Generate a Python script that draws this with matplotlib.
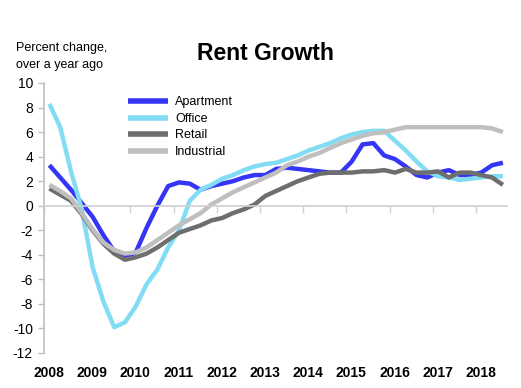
import numpy as np
import matplotlib
matplotlib.use("Agg")
import matplotlib.pyplot as plt
from matplotlib.transforms import ScaledTranslation

plt.rcParams['font.family'] = ['Liberation Sans', 'DejaVu Sans']

# Quarterly observations, 2008Q1 .. 2018Q3
start_year = 2008.125
apartment = [3.3, 2.3, 1.3, 0.2, -0.9, -2.4, -3.7, -4.2, -3.8, -1.8, 0.0, 1.6,
             1.9, 1.8, 1.3, 1.6, 1.8, 2.0, 2.3, 2.5, 2.5, 3.0, 3.1, 3.0,
             2.9, 2.8, 2.7, 2.7, 3.6, 5.0, 5.1, 4.1, 3.8, 3.2, 2.5, 2.3,
             2.7, 2.9, 2.5, 2.5, 2.7, 3.3, 3.5]
office = [8.3, 6.4, 2.8, -0.3, -5.0, -7.8, -9.9, -9.5, -8.2, -6.4, -5.2, -3.4,
          -2.0, 0.4, 1.3, 1.7, 2.2, 2.5, 2.9, 3.2, 3.4, 3.5, 3.8, 4.1,
          4.5, 4.8, 5.1, 5.5, 5.8, 6.0, 6.1, 6.1, 5.3, 4.5, 3.6, 2.8,
          2.4, 2.3, 2.1, 2.2, 2.3, 2.4, 2.4]
retail = [1.4, 0.9, 0.4, -0.7, -2.0, -3.1, -3.9, -4.4, -4.2, -3.9, -3.4, -2.8,
          -2.2, -1.9, -1.6, -1.2, -1.0, -0.6, -0.3, 0.1, 0.8, 1.2, 1.6, 2.0,
          2.3, 2.6, 2.7, 2.7, 2.7, 2.8, 2.8, 2.9, 2.7, 3.0, 2.7, 2.7,
          2.8, 2.3, 2.7, 2.7, 2.5, 2.3, 1.7]
industrial = [1.7, 1.2, 0.6, -0.6, -1.9, -3.0, -3.6, -3.9, -3.8, -3.4, -2.8, -2.2,
              -1.6, -1.1, -0.6, 0.1, 0.6, 1.1, 1.5, 1.9, 2.3, 2.7, 3.3, 3.6,
              4.0, 4.3, 4.7, 5.1, 5.4, 5.7, 5.9, 6.0, 6.2, 6.4, 6.4, 6.4,
              6.4, 6.4, 6.4, 6.4, 6.4, 6.3, 6.0]
years = list(range(2008, 2019))
yticks = list(range(-12, 11, 2))

series = [("Apartment", apartment, "#3535F5"),
          ("Office", office, "#82DDF4"),
          ("Retail", retail, "#6E6E6E"),
          ("Industrial", industrial, "#BFBFBF")]

W, H, DPI = 521, 388, 100
fig = plt.figure(figsize=(W / DPI, H / DPI), dpi=DPI)
ax = fig.add_axes([44 / W, 1 - 353 / H, (507 - 44) / W, (353 - 83) / H])

t = start_year + 0.25 * np.arange(len(apartment))
for name, vals, col in series:
    ax.plot(t, vals, color=col, lw=3.2, label=name, solid_capstyle='butt',
            solid_joinstyle='round')

ax.set_xlim(2008, 2018.72)
ax.set_ylim(-12, 10)
ax.set_yticks(yticks)
ax.set_yticklabels([str(v) for v in yticks], fontsize=10)

for s in ['top', 'right']:
    ax.spines[s].set_visible(False)
ax.spines['left'].set_color('#BFBFBF')
ax.spines['left'].set_linewidth(1.2)
ax.spines['bottom'].set_position(('data', 0))
ax.spines['bottom'].set_color('#D0D0D0')
ax.spines['bottom'].set_linewidth(1.2)
ax.set_xticks(years)
ax.tick_params(axis='x', direction='out', length=5, color='#D0D0D0',
               labelbottom=False, width=1)
ax.tick_params(axis='y', direction='out', length=4, color='#BFBFBF',
               width=1, pad=4)

sec = ax.secondary_xaxis('bottom')
sec.set_xticks(years)
sec.set_xticklabels([str(y) for y in years], fontsize=10, fontweight='bold')
sec.spines['bottom'].set_visible(False)
sec.tick_params(length=0, pad=9.5)
off = ScaledTranslation(5 / DPI, 0, fig.dpi_scale_trans)
for lab in sec.get_xticklabels():
    lab.set_transform(lab.get_transform() + off)

fig.text(265 / W, 1 - 53 / H, "Rent Growth", fontsize=16.5, fontweight='bold',
         ha='center', va='center')
fig.text(16 / W, 1 - 48 / H, "Percent change,", fontsize=9, ha='left', va='center')
fig.text(16 / W, 1 - 65 / H, "over a year ago", fontsize=9, ha='left', va='center')

leg = ax.legend(loc='upper left', bbox_to_anchor=(128 / W, 1 - 96.5 / H),
                bbox_transform=fig.transFigure, frameon=False, fontsize=9,
                handlelength=3.2, handletextpad=0.55, labelspacing=0.36,
                borderpad=0, borderaxespad=0)
for h in leg.get_lines():
    h.set_linewidth(4)

fig.savefig("out.png", dpi=DPI)
